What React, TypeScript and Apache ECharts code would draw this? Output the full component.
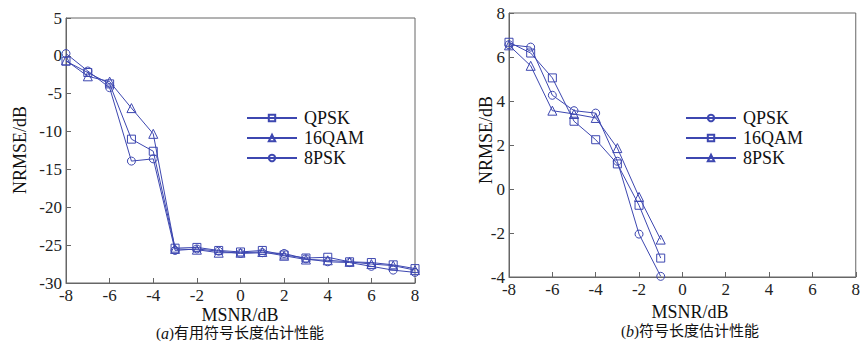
import React, { useEffect, useRef } from "react";
import * as echarts from "echarts";

const xValues = [-8, -7, -6, -5, -4, -3, -2, -1, 0, 1, 2, 3, 4, 5, 6, 7, 8];
const leftQPSK = [-0.7, -2.2, -3.7, -11.0, -12.6, -25.4, -25.3, -25.7, -25.9, -25.7, -26.3, -26.7, -26.6, -27.2, -27.3, -27.6, -28.1];
const left16QAM = [-0.6, -2.7, -3.4, -6.9, -10.3, -25.5, -25.6, -26.0, -26.0, -25.9, -26.4, -26.9, -27.0, -27.2, -27.5, -27.7, -28.3];
const left8PSK = [0.3, -2.0, -4.2, -13.9, -13.6, -25.7, -25.5, -25.8, -26.1, -26.0, -26.1, -26.8, -27.2, -27.3, -27.8, -28.3, -28.6];

const rightX = [-8, -7, -6, -5, -4, -3, -2, -1];
const rightQPSK = [6.56, 6.45, 4.26, 3.56, 3.45, 1.26, -2.05, -3.97];
const right16QAM = [6.67, 6.18, 5.05, 3.08, 2.24, 1.14, -0.74, -3.14];
const right8PSK = [6.53, 5.6, 3.56, 3.41, 3.23, 1.86, -0.36, -2.3];

const names = ["QPSK", "16QAM", "8PSK"];
const BLUE = "#3d47b0";
const FONT = "'Liberation Serif', 'Times New Roman', serif";
const CJK = "'Liberation Serif', 'Noto Sans CJK SC', serif";

function pairs(xs: number[], ys: number[]) {
  return xs.map((x, i) => [x, ys[i]]);
}

export default function App() {
  const ref = useRef<HTMLDivElement>(null);
  useEffect(() => {
    document.body.style.margin = "0";
    const chart = echarts.init(ref.current!, null, { renderer: "svg" });
    const axisCommon = {
      axisLine: { show: true, onZero: false, lineStyle: { color: "#666", width: 1 } },
      axisTick: { show: true, inside: true, length: 5, lineStyle: { color: "#666" } },
      splitLine: { show: false },
      axisLabel: { color: "#222", fontFamily: FONT, fontSize: 17, margin: 4 },
    };
    const mkSeries = (name: string, xi: number, data: number[][], symbol: string) => ({
      type: "line",
      name,
      xAxisIndex: xi,
      yAxisIndex: xi,
      data,
      symbol,
      symbolSize: symbol === "triangle" ? 9 : 8,
      showAllSymbol: true,
      color: BLUE,
      lineStyle: { color: BLUE, width: 1 },
      itemStyle: { color: "rgba(255,255,255,0)", borderColor: BLUE, borderWidth: 1 },
    });
    const legendCommon = {
      orient: "vertical",
      itemWidth: 50,
      itemHeight: 8,
      itemGap: 2,
      textStyle: { fontFamily: FONT, fontSize: 18, color: "#111", padding: [0, 0, 0, 2] },
      selectedMode: false,
    };
    chart.setOption({
      animation: false,
      backgroundColor: "#fff",
      grid: [
        { left: 66, right: 448, top: 18, bottom: 61, show: true, borderColor: "#666", borderWidth: 1 },
        { left: 509, right: 2, top: 13, bottom: 67, show: true, borderColor: "#666", borderWidth: 1 },
      ],
      xAxis: [
        { ...axisCommon, type: "value", gridIndex: 0, min: -8, max: 8, interval: 2 },
        { ...axisCommon, type: "value", gridIndex: 1, min: -8, max: 8, interval: 2 },
      ],
      yAxis: [
        { ...axisCommon, type: "value", gridIndex: 0, min: -30, max: 5, interval: 5 },
        { ...axisCommon, type: "value", gridIndex: 1, min: -4, max: 8, interval: 2 },
      ],
      legend: [
        { ...legendCommon, left: 241, top: 104, data: names },
        {
          ...legendCommon,
          left: 680,
          top: 104,
          data: names.map((n) => n + "_b"),
          formatter: (n: string) => n.replace("_b", ""),
        },
      ],
      series: [
        mkSeries("QPSK", 0, pairs(xValues, leftQPSK), "rect"),
        mkSeries("16QAM", 0, pairs(xValues, left16QAM), "triangle"),
        mkSeries("8PSK", 0, pairs(xValues, left8PSK), "circle"),
        mkSeries("QPSK_b", 1, pairs(rightX, rightQPSK), "circle"),
        mkSeries("16QAM_b", 1, pairs(rightX, right16QAM), "rect"),
        mkSeries("8PSK_b", 1, pairs(rightX, right8PSK), "triangle"),
      ],
      graphic: [
        { type: "text", x: 20, y: 150, rotation: Math.PI / 2, style: { text: "NRMSE/dB", fontFamily: FONT, fontSize: 18, fill: "#111", align: "center", verticalAlign: "middle" } },
        { type: "text", x: 486, y: 140, rotation: Math.PI / 2, style: { text: "NRMSE/dB", fontFamily: FONT, fontSize: 18, fill: "#111", align: "center", verticalAlign: "middle" } },
        { type: "text", x: 240, y: 315, style: { text: "MSNR/dB", fontFamily: FONT, fontSize: 18, fill: "#111", align: "center", verticalAlign: "middle" } },
        { type: "text", x: 690, y: 312, style: { text: "MSNR/dB", fontFamily: FONT, fontSize: 18, fill: "#111", align: "center", verticalAlign: "middle" } },
        {
          type: "text", x: 240, y: 333,
          style: {
            text: "({i|a})有用符号长度估计性能", fontFamily: CJK, fontSize: 15, fill: "#111", align: "center", verticalAlign: "middle",
            rich: { i: { fontStyle: "italic", fontFamily: FONT, fontSize: 16, fill: "#111" } },
          },
        },
        {
          type: "text", x: 690, y: 331,
          style: {
            text: "({i|b})符号长度估计性能", fontFamily: CJK, fontSize: 15, fill: "#111", align: "center", verticalAlign: "middle",
            rich: { i: { fontStyle: "italic", fontFamily: FONT, fontSize: 16, fill: "#111" } },
          },
        },
      ],
    });
    return () => chart.dispose();
  }, []);
  return <div ref={ref} style={{ width: 863, height: 344 }} />;
}
